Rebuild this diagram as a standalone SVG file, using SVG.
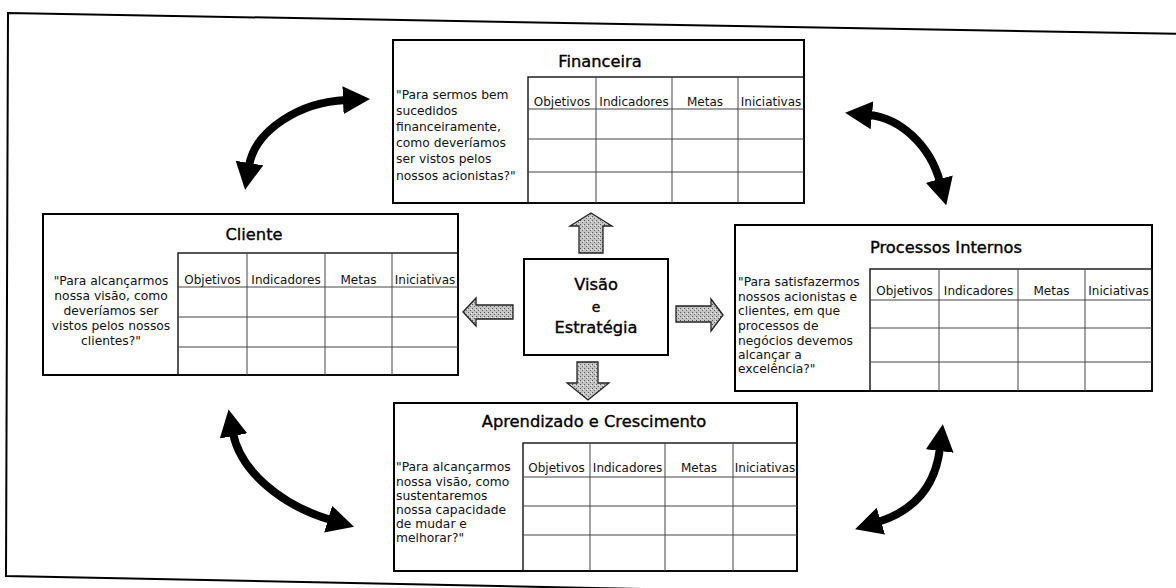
<svg xmlns="http://www.w3.org/2000/svg" width="1176" height="588" viewBox="0 0 1176 588">
<style>
.frame{fill:none;stroke:#000;stroke-width:2}
.box{fill:#fff;stroke:#000;stroke-width:2}
.tbl{fill:none;stroke:#111;stroke-width:1.4}
.grid{stroke:#444;stroke-width:1;fill:none}
.q{font-family:"DejaVu Sans","Liberation Sans",sans-serif;font-size:12.3px;fill:#111}
.h{font-family:"DejaVu Sans","Liberation Sans",sans-serif;font-size:12px;fill:#111;text-anchor:middle}
.t{font-family:"DejaVu Sans","Liberation Sans",sans-serif;font-size:16.3px;fill:#000;stroke:#000;stroke-width:0.35;text-anchor:middle}
.blk{fill:url(#stipple);stroke:#222;stroke-width:1.3}
.curve{fill:none;stroke:#000;stroke-width:8;marker-start:url(#head);marker-end:url(#head)}
</style>
<defs>
<pattern id="stipple" width="4" height="4" patternUnits="userSpaceOnUse">
<rect width="4" height="4" fill="#c4c4c4"/>
<rect x="0" y="0" width="1" height="1" fill="#555"/>
<rect x="2" y="2" width="1" height="1" fill="#666"/>
<rect x="3" y="1" width="1" height="1" fill="#eee"/>
</pattern>
<marker id="head" viewBox="0 0 27 28" refX="3" refY="14" markerWidth="27" markerHeight="28" markerUnits="userSpaceOnUse" orient="auto-start-reverse">
<path d="M0,0 L27,14 L0,28 z" fill="#000"/>
</marker>
</defs>
<rect width="1176" height="588" fill="#fff"/>
<polygon class="frame" points="8,13 1190,34 1180,600 6,576"/>

<g id="connectors">
<polygon class="blk" points="591,213 612,226 603,226 603,253 579,253 579,226 570,226"/>
<polygon class="blk" points="463,312 476,298 476,305 513,305 513,319 476,319 476,326"/>
<polygon class="blk" points="723,315 711,299 711,306 676,306 676,322 711,322 711,331"/>
<polygon class="blk" points="577,362 598,362 598,383 609,383 588,400 567,383 577,383"/>
<path class="curve" d="M249,166 C255,130 300,102 346,100"/>
<path class="curve" d="M869,115 C900,118 930,145 940,182"/>
<path class="curve" d="M233,433 C240,470 280,505 331,520"/>
<path class="curve" d="M940,448 C935,490 910,512 878,522"/>
</g>

<g id="node-financeira">
<rect class="box" x="393" y="40" width="411" height="163"/>
<text class="t" x="600" y="67">Financeira</text>
<rect class="tbl" x="528" y="77" width="276" height="126"/>
<path class="grid" d="M528,109H804M528,139H804M528,172H804M596,77V203M672,77V203M738,77V203"/>
<text class="h" x="562" y="106">Objetivos</text>
<text class="h" x="634" y="106">Indicadores</text>
<text class="h" x="705" y="106">Metas</text>
<text class="h" x="771" y="106">Iniciativas</text>
<text class="q" x="396" y="99">"Para sermos bem</text>
<text class="q" x="396" y="115">sucedidos</text>
<text class="q" x="396" y="131">financeiramente,</text>
<text class="q" x="396" y="147">como deveríamos</text>
<text class="q" x="396" y="163">ser vistos pelos</text>
<text class="q" x="396" y="180">nossos acionistas?"</text>
</g>

<g id="node-cliente">
<rect class="box" x="43" y="214" width="415" height="161"/>
<text class="t" x="254" y="240">Cliente</text>
<rect class="tbl" x="178" y="253" width="280" height="122"/>
<path class="grid" d="M178,287H458M178,317H458M178,347H458M247,253V375M325,253V375M392,253V375"/>
<text class="h" x="212.5" y="284">Objetivos</text>
<text class="h" x="286" y="284">Indicadores</text>
<text class="h" x="358.5" y="284">Metas</text>
<text class="h" x="425" y="284">Iniciativas</text>
<text class="q" x="111" y="285" text-anchor="middle">"Para alcançarmos</text>
<text class="q" x="111" y="300" text-anchor="middle">nossa visão, como</text>
<text class="q" x="111" y="315" text-anchor="middle">deveríamos ser</text>
<text class="q" x="111" y="330" text-anchor="middle">vistos pelos nossos</text>
<text class="q" x="111" y="345" text-anchor="middle">clientes?"</text>
</g>

<g id="node-processos">
<rect class="box" x="735" y="225" width="417" height="166"/>
<text class="t" x="946" y="253">Processos Internos</text>
<rect class="tbl" x="870" y="269" width="282" height="122"/>
<path class="grid" d="M870,300H1152M870,328H1152M870,362H1152M939,269V391M1018,269V391M1085,269V391"/>
<text class="h" x="904.5" y="295">Objetivos</text>
<text class="h" x="978.5" y="295">Indicadores</text>
<text class="h" x="1051.5" y="295">Metas</text>
<text class="h" x="1118.5" y="295">Iniciativas</text>
<text class="q" x="738" y="286">"Para satisfazermos</text>
<text class="q" x="738" y="301">nossos acionistas e</text>
<text class="q" x="738" y="315">clientes, em que</text>
<text class="q" x="738" y="330">processos de</text>
<text class="q" x="738" y="345">negócios devemos</text>
<text class="q" x="738" y="359">alcançar a</text>
<text class="q" x="738" y="373">excelência?"</text>
</g>

<g id="node-aprendizado">
<rect class="box" x="394" y="403" width="403" height="168"/>
<text class="t" x="594" y="427">Aprendizado e Crescimento</text>
<rect class="tbl" x="523" y="443" width="274" height="128"/>
<path class="grid" d="M523,477H797M523,506H797M523,535H797M590,443V571M665,443V571M733,443V571"/>
<text class="h" x="556.5" y="472">Objetivos</text>
<text class="h" x="627.5" y="472">Indicadores</text>
<text class="h" x="699" y="472">Metas</text>
<text class="h" x="765" y="472">Iniciativas</text>
<text class="q" x="396" y="471">"Para alcançarmos</text>
<text class="q" x="396" y="486">nossa visão, como</text>
<text class="q" x="396" y="500">sustentaremos</text>
<text class="q" x="396" y="514">nossa capacidade</text>
<text class="q" x="396" y="528">de mudar e</text>
<text class="q" x="396" y="542">melhorar?"</text>
</g>

<g id="node-visao">
<rect class="box" x="524" y="259" width="144" height="96"/>
<text class="t" x="596" y="290">Visão</text>
<text class="t" x="596" y="312" style="font-size:14px">e</text>
<text class="t" x="596" y="333">Estratégia</text>
</g>
</svg>
